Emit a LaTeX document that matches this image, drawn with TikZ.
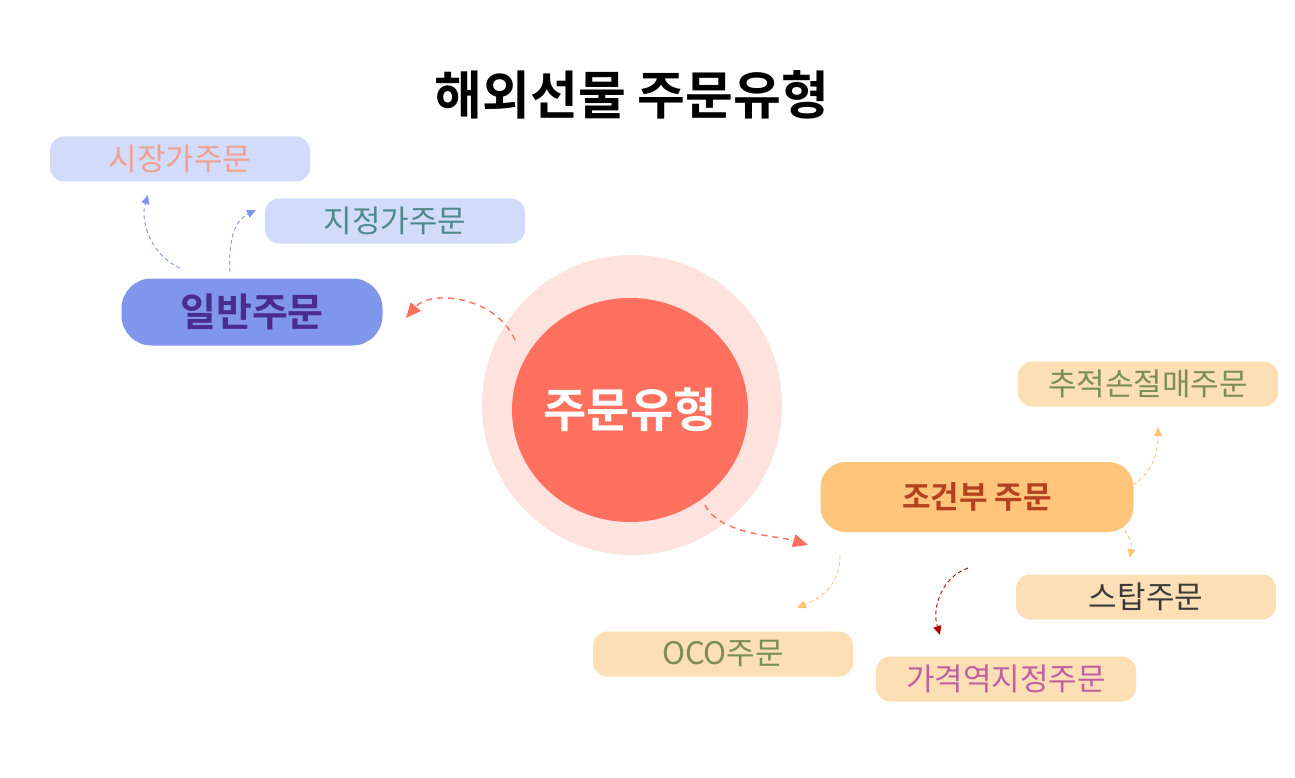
\documentclass[tikz,border=0pt]{standalone}
\usepackage{fontspec}
\setmainfont{Noto Sans CJK KR}
\newfontfamily\kbold{Noto Sans CJK KR Bold}
\usetikzlibrary{arrows.meta}
\definecolor{pinkbg}{HTML}{FDE2DE}
\definecolor{coral}{HTML}{FF705E}
\definecolor{blueA}{HTML}{7F96EC}
\definecolor{blueL}{HTML}{D3DBFB}
\definecolor{orangeA}{HTML}{FFC57A}
\definecolor{peach}{HTML}{FDDFB5}
\tikzset{
 leaf/.style={rounded corners=14pt, minimum width=260pt, minimum height=45pt, font=\fontsize{31}{34}\selectfont},
 conn/.style={dashed, dash pattern=on 6pt off 5pt, -{Triangle[length=15pt,width=13pt]}, line width=1.4pt},
 thin/.style={dash pattern=on 4pt off 3pt, -{Triangle[length=9pt,width=8pt]}, line width=0.9pt}
}
\begin{document}
\begin{tikzpicture}[x=1pt,y=-1pt]
\useasboundingbox (0,0) rectangle (1295,778);
\node (title) at (632,95) {\kbold\fontsize{52}{58}\selectfont 해외선물 주문유형};
\fill[pinkbg] (632,405) circle (150);
\fill[coral] (630,410) ellipse (118 and 112);
\node[text=white] (c) at (630,410) {\kbold\fontsize{47}{52}\selectfont 주문유형};
\coordinate (c1) at (515,340); \coordinate (c2) at (705,505);
\coordinate (ge) at (406,318); \coordinate (je) at (808,545);
\node[fill=blueA, rounded corners=30pt, minimum width=261pt, minimum height=67pt, text={rgb,255:red,75;green,44;blue,142}] (g) at (252,312) {\kbold\fontsize{39}{44}\selectfont 일반주문};
\node[leaf, fill=blueL, text={rgb,255:red,240;green,160;blue,144}] (m) at (180,159) {시장가주문};
\node[leaf, fill=blueL, text={rgb,255:red,78;green,138;blue,138}] (l) at (395,221) {지정가주문};
\node[fill=orangeA, rounded corners=25pt, minimum width=313pt, minimum height=70pt, text={rgb,255:red,181;green,64;blue,30}] (j) at (977,497) {\kbold\fontsize{31}{36}\selectfont 조건부 주문};
\node[leaf, fill=peach, text={rgb,255:red,122;green,143;blue,80}] (t) at (1148,384) {추적손절매주문};
\node[leaf, fill=peach, text={rgb,255:red,58;green,58;blue,58}] (s) at (1146,597) {스탑주문};
\node[leaf, fill=peach, text={rgb,255:red,122;green,143;blue,80}] (o) at (723,654) {OCO주문};
\node[leaf, fill=peach, text={rgb,255:red,192;green,96;blue,160}] (p) at (1006,679) {가격역지정주문};
\draw[conn, coral] (c1) .. controls (495,295) and (430,290) .. (ge);
\draw[conn, coral] (c2) .. controls (720,535) and (775,535) .. (je);
\coordinate (g1) at (180,268); \coordinate (g2) at (230,272);
\coordinate (m1) at (148,195); \coordinate (l1) at (256,210);
\draw[thin, blueA] (g1) .. controls (150,255) and (140,220) .. (m1);
\draw[thin, blueA] (g2) .. controls (228,240) and (235,220) .. (l1);
\coordinate (j1) at (1133,485); \coordinate (j2) at (1120,525);
\coordinate (t1) at (1158,427); \coordinate (s1) at (1130,558);
\draw[thin, orangeA] (j1) .. controls (1155,470) and (1158,450) .. (t1);
\draw[thin, orangeA] (j2) .. controls (1130,535) and (1132,545) .. (s1);
\coordinate (j3) at (840,555); \coordinate (j4) at (968,568);
\coordinate (o1) at (797,608); \coordinate (p1) at (940,635);
\draw[thin, orangeA] (j3) .. controls (840,590) and (815,600) .. (o1);
\draw[thin, red!70!black] (j4) .. controls (940,578) and (932,610) .. (p1);
\end{tikzpicture}
\end{document}
